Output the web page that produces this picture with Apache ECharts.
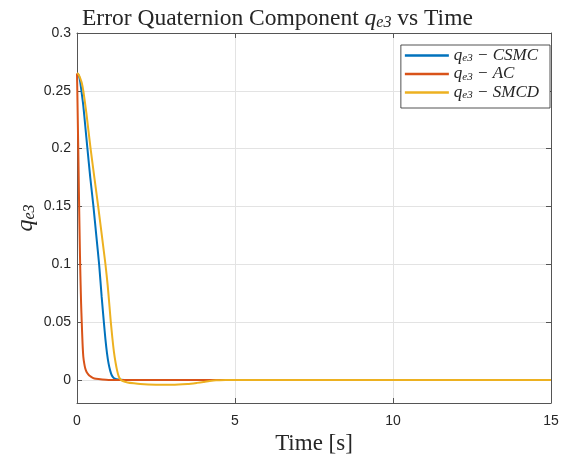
<!DOCTYPE html>
<html><head><meta charset="utf-8">
<script src="https://cdn.jsdelivr.net/npm/echarts@6/dist/echarts.min.js"></script>
<style>html,body{margin:0;padding:0;background:#fff}#c{width:567px;height:459px}</style>
</head><body><div id="c"></div>
<script>
// ---- data ----
var seriesNames = ['CSMC', 'AC', 'SMCD'];
var tCSMC = [0,0.03,0.06,0.1,0.14,0.2,0.26,0.33,0.42,0.52,0.61,0.7,0.78,0.85,0.9,0.95,1.0,1.05,1.1,1.15,1.2,1.3,1.5,5,15];
var qCSMC = [0.265,0.2645,0.263,0.258,0.25,0.237,0.22,0.2,0.175,0.15,0.125,0.1,0.072,0.05,0.035,0.023,0.014,0.008,0.004,0.002,0.001,0.0003,0,0,0];
var tAC = [0,0.01,0.02,0.03,0.04,0.05,0.06,0.07,0.08,0.09,0.1,0.115,0.13,0.15,0.175,0.2,0.23,0.26,0.3,0.35,0.4,0.5,0.6,0.8,1.0,5,15];
var qAC = [0.265,0.25,0.233,0.216,0.2,0.182,0.163,0.146,0.13,0.114,0.1,0.082,0.066,0.05,0.032,0.02,0.014,0.01,0.007,0.005,0.0035,0.0018,0.0009,0.0003,0,0,0];
var tSMCD = [0,0.03,0.06,0.1,0.15,0.2,0.3,0.43,0.55,0.67,0.8,0.9,0.97,1.03,1.07,1.12,1.17,1.22,1.27,1.32,1.38,1.45,1.6,1.8,2.0,2.5,3.0,3.5,3.8,4.0,4.2,4.4,4.7,5,15];
var qSMCD = [0.265,0.265,0.2635,0.261,0.257,0.25,0.23,0.2,0.175,0.15,0.122,0.1,0.082,0.063,0.05,0.036,0.024,0.015,0.008,0.003,0.0003,-0.001,-0.0022,-0.003,-0.0036,-0.0042,-0.0043,-0.0036,-0.0026,-0.0018,-0.001,-0.0004,-0.0001,0,0];
var yTicks = [0,0.05,0.1,0.15,0.2,0.25,0.3];

function pairs(t, q){ return t.map(function(v,i){ return [v, q[i]]; }); }
var colors = ['#0072BD', '#D95319', '#EDB120'];
var axisCol = '#555';
var serif = '"Liberation Serif", "DejaVu Serif", serif';
var sans = '"Liberation Sans", Arial, sans-serif';

var chart = echarts.init(document.getElementById('c'), null, {renderer:'canvas'});
function mkY(pos, show){
  return {
    type:'value', position: pos, min:-0.02, max:0.3,
    axisLine:{show:true, onZero:false, lineStyle:{color:axisCol, width:1}},
    axisTick:{show:true, inside:true, length:5, customValues:yTicks, lineStyle:{color:axisCol}},
    axisLabel:{show:show, customValues:yTicks, color:'#262626', fontFamily:sans, fontSize:14, margin:6,
      formatter:function(v){ return String(+(+v).toFixed(2)); }},
    splitLine:{show:show, lineStyle:{color:'#e3e3e3', width:1}}
  };
}
function mkX(pos, show){
  return {
    type:'value', position: pos, min:0, max:15, interval:5,
    axisLine:{show:true, onZero:false, lineStyle:{color:axisCol, width:1}},
    axisTick:{show:true, inside:true, length:5, lineStyle:{color:axisCol}},
    axisLabel:{show:show, color:'#262626', fontFamily:sans, fontSize:14, margin:11},
    splitLine:{show:show, lineStyle:{color:'#e3e3e3', width:1}}
  };
}
var xb = mkX('bottom', true);
xb.name = 'Time [s]'; xb.nameLocation='middle'; xb.nameGap=27;
xb.nameTextStyle = {fontFamily:serif, fontSize:23, color:'#262626'};
var yl = mkY('left', true);
yl.name = '{q|q}{s|e3}'; yl.nameLocation='middle'; yl.nameGap=39; yl.nameRotate=90;
yl.nameMoveOverlap = false;
yl.nameTextStyle = {rich:{
  q:{fontFamily:serif, fontStyle:'italic', fontSize:24, color:'#262626'},
  s:{fontFamily:serif, fontStyle:'italic', fontSize:16, color:'#262626', padding:[9,0,0,0]}
}};

var sData = [pairs(tCSMC,qCSMC), pairs(tAC,qAC), pairs(tSMCD,qSMCD)];
chart.setOption({
  animation:false,
  backgroundColor:'#fff',
  color: colors,
  title:{
    text:'{n|Error Quaternion Component }{q|q}{s|e3}{n| vs Time}',
    left:77, top:2,
    textStyle:{fontWeight:'normal', rich:{
      n:{fontFamily:serif, fontWeight:'normal', fontSize:23.5, color:'#262626'},
      q:{fontFamily:serif, fontWeight:'normal', fontStyle:'italic', fontSize:23.5, color:'#262626'},
      s:{fontFamily:serif, fontWeight:'normal', fontStyle:'italic', fontSize:16, color:'#262626', padding:[8,0,0,0]}
    }}
  },
  grid:{left:77, right:16, top:33, bottom:56, show:false, outerBoundsMode:'none', containLabel:false},
  legend:{
    orient:'vertical', right:17, top:45,
    backgroundColor:'#fff', borderColor:'#262626', borderWidth:0.8,
    padding:[2,11,7,4], itemGap:1.5, itemWidth:44, itemHeight:2.5, icon:'rect',
    formatter:function(name){ return '{q|q}{s|e3}{n| − ' + name + '}'; },
    textStyle:{rich:{
      q:{fontFamily:serif, fontStyle:'italic', fontSize:17, color:'#262626', lineHeight:17},
      s:{fontFamily:serif, fontStyle:'italic', fontSize:11, color:'#262626', padding:[6,0,0,0]},
      n:{fontFamily:serif, fontStyle:'italic', fontSize:17, color:'#262626', lineHeight:17}
    }},
    data: seriesNames
  },
  xAxis:[xb, mkX('top', false)],
  yAxis:[yl, mkY('right', false)],
  series: seriesNames.map(function(n,i){
    return {name:n, type:'line', data:sData[i], showSymbol:false, symbol:'none',
      smooth:0.2, lineStyle:{width:2, color:colors[i]}, itemStyle:{color:colors[i]}, z:2+i};
  })
});
</script></body></html>
